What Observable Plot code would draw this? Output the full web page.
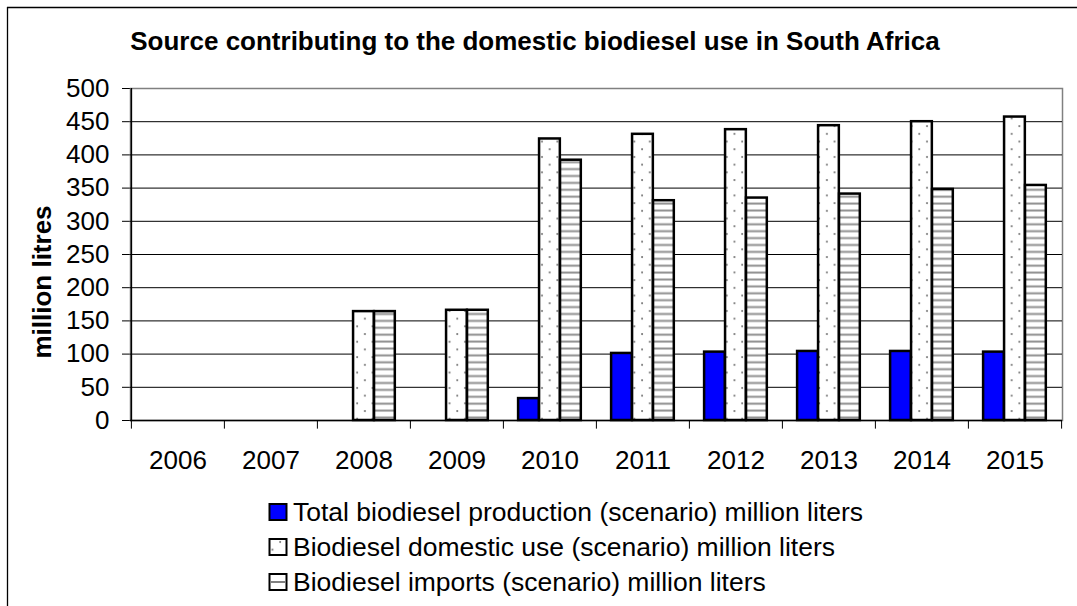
<!DOCTYPE html>
<html>
<head>
<meta charset="utf-8">
<script src="https://cdn.jsdelivr.net/npm/d3@7"></script>
<script src="https://cdn.jsdelivr.net/npm/@observablehq/plot@0.6"></script>
<style>
  html, body { margin: 0; padding: 0; background: #fff; overflow: hidden; }
  #wrap { position: relative; width: 1077px; height: 606px; }
  #overlay { position: absolute; left: 0; top: 0; pointer-events: none; }
  #chart svg { display: block; }
</style>
</head>
<body>
<div id="wrap">
  <div id="chart"></div>
  <svg id="overlay" width="1077" height="606"></svg>
</div>
<script>
// ---- data ----
const years = ["2006", "2007", "2008", "2009", "2010", "2011", "2012", "2013", "2014", "2015"];
const production = [0, 0, 0, 0, 33, 101, 103, 104, 104, 103];
const domesticUse = [0, 0, 164, 166, 424, 431, 438, 444, 450, 457];
const imports = [0, 0, 164, 166, 392, 331, 335, 341, 348, 354];
const seriesNames = [
  "Total biodiesel production (scenario) million liters",
  "Biodiesel domestic use (scenario) million liters",
  "Biodiesel imports (scenario) million liters"
];
const yTicks = [0, 50, 100, 150, 200, 250, 300, 350, 400, 450, 500];
const titleText = "Source contributing to the domestic biodiesel use in South Africa";
const yLabelText = "million litres";

// ---- layout ----
const W = 1077, H = 606;
const mL = 130, mR = 15, mT = 88, mB = 186;
const bw = (W - mL - mR) / years.length;
const lead = bw * 0.162, barW = bw * 0.225;
const fills = ["#0000FF", "url(#dots)", "url(#hlines)"];
const font = "'Liberation Sans', Arial, sans-serif";

const rows = (vals) => years.map((y, i) => ({year: y, value: vals[i]}));
const seriesData = [rows(production), rows(domesticUse), rows(imports)];

const barMarks = seriesData.map((data, k) =>
  Plot.barY(data, {
    filter: d => d.value > 0,
    x: "year", y: "value",
    fill: fills[k], stroke: "black", strokeWidth: 2.5,
    insetLeft: lead + barW * k,
    insetRight: bw - lead - barW * (k + 1)
  })
);

const chart = Plot.plot({
  width: W, height: H,
  marginLeft: mL, marginRight: mR, marginTop: mT, marginBottom: mB,
  style: {fontFamily: font, fontSize: "26px", color: "black", background: "transparent", overflow: "visible"},
  x: {type: "band", domain: years, padding: 0, tickSize: 0, tickPadding: 30, label: null},
  y: {domain: [0, 500], ticks: yTicks, tickSize: 8, tickPadding: 13, label: null},
  marks: [
    Plot.frame({stroke: "#808080", strokeWidth: 1.5}),
    Plot.ruleY(yTicks.filter(t => t > 0 && t < 500), {stroke: "black", strokeWidth: 1}),
    ...barMarks,
    Plot.ruleY([0], {stroke: "black", strokeWidth: 1.5}),
    Plot.ruleX([years[0]], {dx: -bw / 2, stroke: "black", strokeWidth: 1.5}),
    Plot.ruleX(years, {x: d => d, dx: -bw / 2, y1: 0, y2: -13, stroke: "black"}),
    Plot.ruleX([years[years.length - 1]], {dx: bw / 2, y1: 0, y2: -13, stroke: "black"})
  ]
});
document.getElementById("chart").appendChild(chart);

// patterns
const svg = d3.select(chart);
const defs = svg.insert("defs", ":first-child");
const pd = defs.append("pattern").attr("id", "dots").attr("patternUnits", "userSpaceOnUse")
  .attr("width", 15.4).attr("height", 15.4);
pd.append("rect").attr("width", 15.4).attr("height", 15.4).attr("fill", "white");
pd.append("circle").attr("cx", 3).attr("cy", 3).attr("r", 1).attr("fill", "#707070");
pd.append("circle").attr("cx", 10.7).attr("cy", 10.7).attr("r", 1).attr("fill", "#707070");
const ph = defs.append("pattern").attr("id", "hlines").attr("patternUnits", "userSpaceOnUse")
  .attr("width", 8).attr("height", 6.9);
ph.append("rect").attr("width", 8).attr("height", 6.9).attr("fill", "white");
ph.append("rect").attr("y", 2.5).attr("width", 8).attr("height", 2).attr("fill", "#909090");

// overlay: border, title, y label, legend
const ov = d3.select("#overlay");
ov.append("line").attr("x1", 7).attr("y1", 7.5).attr("x2", W).attr("y2", 7.5).attr("stroke", "black").attr("stroke-width", 1.3);
ov.append("line").attr("x1", 7.5).attr("y1", 7).attr("x2", 7.5).attr("y2", H).attr("stroke", "black").attr("stroke-width", 1.3);
ov.append("text").attr("x", 535).attr("y", 50).attr("text-anchor", "middle")
  .style("font-family", font).style("font-size", "26px").style("font-weight", "bold").text(titleText);
ov.append("text").attr("transform", "translate(51,282) rotate(-90)").attr("text-anchor", "middle")
  .style("font-family", font).style("font-size", "26px").style("font-weight", "bold").text(yLabelText);
const legendBaselines = [521, 556, 591];
seriesNames.forEach((name, k) => {
  const by = legendBaselines[k];
  ov.append("rect").attr("x", 269.5).attr("y", by - 17).attr("width", 17).attr("height", 16)
    .attr("fill", k === 2 ? "white" : fills[k]).attr("stroke", "black").attr("stroke-width", 2);
  if (k === 2) {
    ov.append("line").attr("x1", 270.5).attr("x2", 285.5).attr("y1", by - 9).attr("y2", by - 9)
      .attr("stroke", "#808080").attr("stroke-width", 2);
  }
  ov.append("text").attr("x", 293).attr("y", by)
    .style("font-family", font).style("font-size", "26.5px").text(name);
});
</script>
</body>
</html>
